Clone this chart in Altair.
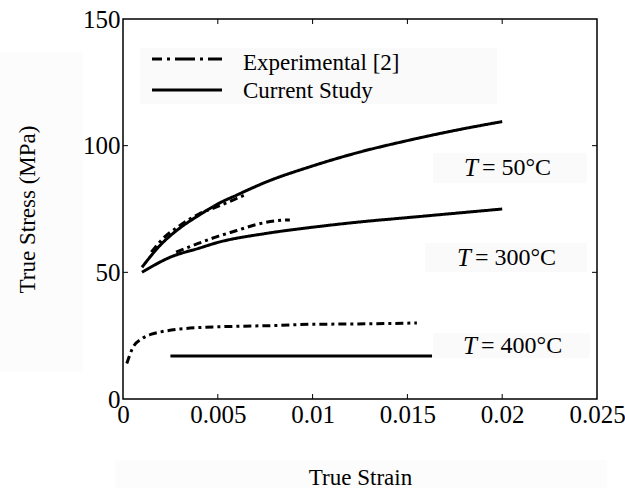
import altair as alt
import pandas as pd

FONT = "'Liberation Serif', 'Times New Roman', Times, serif"

# ---- axis ticks -------------------------------------------------------------
strain_ticks = [0, 0.005, 0.01, 0.015, 0.02, 0.025]
stress_ticks = [0, 50, 100, 150]

# ---- stress-strain curves ---------------------------------------------------
exp50_strain = [0.0015, 0.002, 0.003, 0.004, 0.005, 0.0058, 0.0064]
exp50_stress = [58, 62.5, 68.5, 73, 76, 78.5, 80.5]

cur50_strain = [0.001, 0.002, 0.003, 0.004, 0.005, 0.006, 0.0075, 0.01, 0.0125, 0.015, 0.0175, 0.02]
cur50_stress = [52, 61, 67.5, 72.5, 77, 80.5, 85.5, 92, 97.5, 102, 106, 109.5]

exp300_strain = [0.0028, 0.004, 0.005, 0.006, 0.007, 0.008, 0.0088]
exp300_stress = [58, 61.5, 64.2, 66.5, 68.8, 70.3, 70.7]

cur300_strain = [0.001, 0.0025, 0.004, 0.005, 0.0075, 0.01, 0.0125, 0.015, 0.0175, 0.02]
cur300_stress = [50, 56, 59.5, 61.8, 65.3, 67.8, 69.9, 71.6, 73.3, 75]

exp400_strain = [0.0002, 0.0005, 0.001, 0.0015, 0.002, 0.003, 0.004, 0.006, 0.008, 0.01, 0.012, 0.014, 0.0155]
exp400_stress = [14, 20, 23.8, 25.6, 26.5, 27.6, 28.2, 28.7, 29, 29.5, 29.6, 29.8, 30]

cur400_strain = [0.0025, 0.0163]
cur400_stress = [17, 17]

sources = ["Experimental [2]", "Current Study"]

curves = [
    ("exp50", sources[0], exp50_strain, exp50_stress),
    ("cur50", sources[1], cur50_strain, cur50_stress),
    ("exp300", sources[0], exp300_strain, exp300_stress),
    ("cur300", sources[1], cur300_strain, cur300_stress),
    ("exp400", sources[0], exp400_strain, exp400_stress),
    ("cur400", sources[1], cur400_strain, cur400_stress),
]

rows = []
for cid, src, xs, ys in curves:
    for i, (sx, sy) in enumerate(zip(xs, ys)):
        rows.append({"curve": cid, "source": src, "order": i, "strain": sx, "stress": sy})
lines_df = pd.DataFrame(rows)

# ---- temperature labels ----------------------------------------------------
temps = ["50°C", "300°C", "400°C"]
label_strain = [0.01888, 0.01851, 0.01883]
label_stress = [91.2, 55.5, 20.9]
box_x0 = [0.01635, 0.01593, 0.01635]
box_x1 = [0.02446, 0.02446, 0.02462]
box_y0 = [85.3, 50.1, 16.2]
box_y1 = [97.1, 61.6, 26.0]
labels_df = pd.DataFrame({
    "temp": temps, "rest": ["= " + t for t in temps],
    "sx": label_strain, "sy": label_stress,
    "bx0": box_x0, "bx1": box_x1, "by0": box_y0, "by1": box_y1,
})

x_scale = alt.Scale(domain=[0, 0.025], nice=False, zero=False)
y_scale = alt.Scale(domain=[0, 150], nice=False, zero=False)

x_axis = alt.Axis(
    values=strain_ticks, format="~g", title="True Strain",
    titleFont=FONT, titleFontSize=23, titleFontWeight="normal", titleColor="black",
    titleX=237, titleY=85, titleBaseline="alphabetic",
    labelFont=FONT, labelFontSize=25, labelColor="black", labelPadding=3,
    labelFlush=False, labelOverlap=False,
    tickSize=0, domain=False, grid=False, zindex=1,
)
y_axis = alt.Axis(
    values=stress_ticks, title="True Stress (MPa)",
    titleFont=FONT, titleFontSize=23, titleFontWeight="normal", titleColor="black",
    titleX=-96, titleY=190, titleAngle=270, titleBaseline="middle",
    labelFont=FONT, labelFontSize=25, labelColor="black", labelPadding=3,
    labelFlush=False, labelOverlap=False,
    tickSize=0, domain=False, grid=False, zindex=1,
)

# faint text-box backgrounds behind the axis titles
ytitle_box = alt.Chart(pd.DataFrame({"k": [0]})).mark_rect(color="#fcfcfc").encode(
    x=alt.value(-123), x2=alt.value(-40), y=alt.value(33), y2=alt.value(353))
xtitle_box = alt.Chart(pd.DataFrame({"k": [0]})).mark_rect(color="#fcfcfc").encode(
    x=alt.value(-8), x2=alt.value(484), y=alt.value(441), y2=alt.value(469))

base_lines = alt.Chart(lines_df).mark_line(
    color="black", strokeWidth=3, interpolate="monotone", strokeCap="butt"
).encode(
    x=alt.X("strain:Q", scale=x_scale, axis=x_axis),
    y=alt.Y("stress:Q", scale=y_scale, axis=y_axis),
    detail="curve:N",
    order="order:Q",
    strokeDash=alt.StrokeDash(
        "source:N",
        scale=alt.Scale(domain=sources, range=[[8, 4, 3, 4], [1, 0]]),
        legend=None,
    ),
)

# inward tick marks on all four sides
xt = pd.DataFrame({"v": strain_ticks[1:-1]})
yt = pd.DataFrame({"v": stress_ticks[1:-1]})
tick_bottom = alt.Chart(xt).mark_rule(color="black", strokeWidth=1).encode(
    x=alt.X("v:Q", scale=x_scale), y=alt.value(380), y2=alt.value(375))
tick_top = alt.Chart(xt).mark_rule(color="black", strokeWidth=1).encode(
    x=alt.X("v:Q", scale=x_scale), y=alt.value(0), y2=alt.value(5))
tick_left = alt.Chart(yt).mark_rule(color="black", strokeWidth=1).encode(
    y=alt.Y("v:Q", scale=y_scale), x=alt.value(0), x2=alt.value(5))
tick_right = alt.Chart(yt).mark_rule(color="black", strokeWidth=1).encode(
    y=alt.Y("v:Q", scale=y_scale), x=alt.value(474), x2=alt.value(469))

# temperature annotations
label_boxes = alt.Chart(labels_df).mark_rect(color="#fafafa").encode(
    x=alt.X("bx0:Q", scale=x_scale), x2="bx1:Q",
    y=alt.Y("by0:Q", scale=y_scale), y2="by1:Q")
label_T = alt.Chart(labels_df).mark_text(
    text="T", font=FONT, fontSize=25, fontStyle="italic", align="right",
    baseline="middle", dx=-3, color="black"
).encode(x=alt.X("sx:Q", scale=x_scale), y=alt.Y("sy:Q", scale=y_scale))
label_rest = alt.Chart(labels_df).mark_text(
    font=FONT, fontSize=24, align="left", baseline="middle", dx=1, color="black"
).encode(x=alt.X("sx:Q", scale=x_scale), y=alt.Y("sy:Q", scale=y_scale), text="rest:N")

# legend
one = pd.DataFrame({"k": [0]})
legend_box = alt.Chart(one).mark_rect(color="#fafafa").encode(
    x=alt.value(17), x2=alt.value(374), y=alt.value(29), y2=alt.value(85))
legend_exp = alt.Chart(one).mark_rule(
    color="black", strokeWidth=3, strokeDash=[20, 5, 3, 5], strokeDashOffset=10
).encode(x=alt.value(29), x2=alt.value(99), y=alt.value(40))
legend_cur = alt.Chart(one).mark_rule(color="black", strokeWidth=3).encode(
    x=alt.value(29), x2=alt.value(99), y=alt.value(71))
legend_exp_text = alt.Chart(one).mark_text(
    text=sources[0], font=FONT, fontSize=23, align="left", baseline="middle", color="black"
).encode(x=alt.value(120), y=alt.value(44))
legend_cur_text = alt.Chart(one).mark_text(
    text=sources[1], font=FONT, fontSize=23, align="left", baseline="middle", color="black"
).encode(x=alt.value(120), y=alt.value(72))

chart = alt.layer(
    ytitle_box, xtitle_box,
    label_boxes, legend_box,
    base_lines,
    tick_bottom, tick_top, tick_left, tick_right,
    label_T, label_rest,
    legend_exp, legend_cur, legend_exp_text, legend_cur_text,
).properties(
    width=474, height=380,
    autosize=alt.AutoSizeParams(type="none"),
    padding={"left": 123, "top": 19, "right": 28, "bottom": 89},
    background="white",
).configure_view(stroke="black", strokeWidth=1.5)

chart.save("out.html", embed_options={"renderer": "svg", "actions": False})
